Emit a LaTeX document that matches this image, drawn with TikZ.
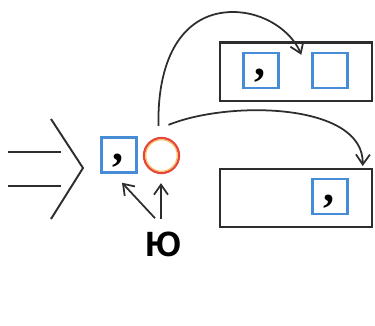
\documentclass[tikz,border=0pt]{standalone}
\usepackage{fontspec}
\setmainfont{Liberation Sans}
\newfontfamily\commafont{Liberation Serif}
\usetikzlibrary{arrows.meta, positioning}

\definecolor{cellblue}{RGB}{70,140,215}
\definecolor{ringred}{RGB}{228,70,60}
\definecolor{ringglow}{RGB}{250,190,90}
\definecolor{ink}{RGB}{45,45,45}

% comma mark sitting in the middle of its cell
\newcommand\sepmark{\raisebox{-3pt}[\height][\depth]{,}\kern1.5pt}

\begin{document}
\begin{tikzpicture}[
        x=0.2mm, y=-0.2mm,
        cell/.style={
            draw=cellblue,
            line width=1.4pt,
            minimum size=7mm,
            inner sep=0pt,
            font=\commafont\bfseries\fontsize{25}{25}\selectfont
        },
        ring/.style={
            circle,
            draw=ringred,
            line width=1.3pt,
            minimum size=7mm,
            inner sep=0pt
        },
        slot/.style={
            draw=ink,
            line width=1.2pt,
            minimum width=30.4mm,
            minimum height=11.7mm,
            inner sep=0pt
        },
        stroke/.style={draw=ink, line width=1.1pt},
        arrow/.style={-{Straight Barb[length=2mm, width=2.8mm]}, draw=ink, line width=1pt}
    ]
    \useasboundingbox (0,0) rectangle (375,326);

    % Implication sign on the left
    \coordinate (eqa) at (8,152);
    \coordinate (eqb) at (61,152);
    \coordinate (eqc) at (8,186);
    \coordinate (eqd) at (61,186);
    \coordinate (vtop) at (51,119);
    \coordinate (vtip) at (83,168);
    \coordinate (vbot) at (51,219);
    \draw[stroke] (eqa) -- (eqb);
    \draw[stroke] (eqc) -- (eqd);
    \draw[stroke] (vtop) -- (vtip) -- (vbot);

    % Middle pair: sign and vowel
    \node[cell] (sign) at (119,155) {\sepmark};
    \node[ring] (vowel) at (161.5,155.5) {};
    \draw[ringglow, line width=0.6pt] (vowel) circle (3.15mm);

    % Letter below
    \node[inner sep=0pt, font=\bfseries\fontsize{20}{20}\selectfont] (ju) at (164,244) {Ю};

    % Upper word box
    \node[slot] (upper) at (296,71.7) {};
    \node[cell] (upsign) at (261,70.5) {\sepmark};
    \node[cell] (upvowel) at (330,70.5) {};

    % Lower word box
    \node[slot] (lower) at (296,197.8) {};
    \node[cell] (lowsign) at (330,196.7) {\sepmark};

    % Free ends of the connectors
    \coordinate (upstart) at ([shift={(-3,-11)}]vowel.north);
    \coordinate (upend) at ([shift={(-10,3)}]upvowel.north west);
    \coordinate (lowstart) at ([shift={(7,-12)}]vowel.north);
    \coordinate (lowend) at ([shift={(14,-12)}]lowsign.north east);
    \coordinate (juleft) at ([shift={(-9,-13)}]ju.north);
    \coordinate (juright) at ([shift={(-3,-12)}]ju.north);
    \coordinate (signend) at ([shift={(3,9)}]sign.south);
    \coordinate (vowelend) at ([shift={(-0.5,9)}]vowel.south);

    % Curved arrows into the word boxes
    \draw[arrow] (upstart) .. controls (157,55) and (185,12) .. (233,12)
        .. controls (265,12) and (292,32) .. (upend);
    \draw[arrow] (lowstart) .. controls (230,100) and (364,103) .. (lowend);

    % Arrows from the letter
    \draw[arrow] (juleft) -- (signend);
    \draw[arrow] (juright) -- (vowelend);

\end{tikzpicture}
\end{document}
